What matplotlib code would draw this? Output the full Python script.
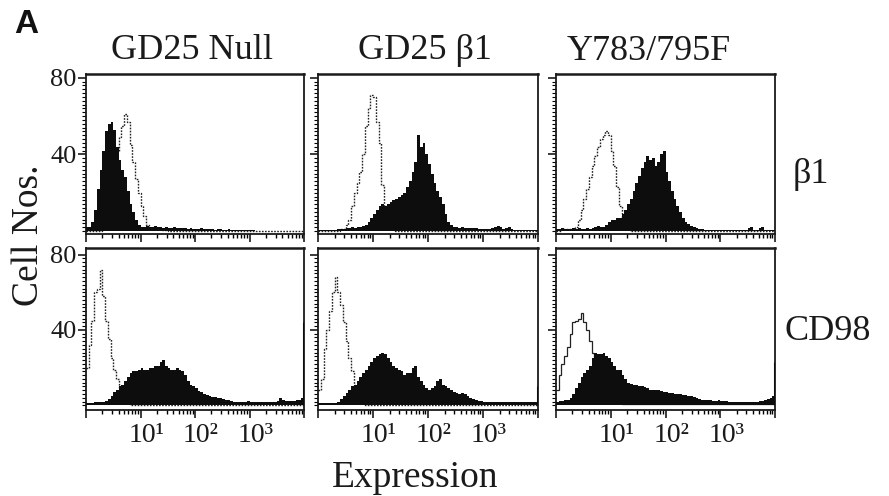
import numpy as np
import matplotlib
matplotlib.use("Agg")
import matplotlib.pyplot as plt
import matplotlib.transforms as mtransforms
from matplotlib.ticker import FixedLocator, FixedFormatter, NullFormatter

plt.rcParams['font.family'] = ['Liberation Serif', 'DejaVu Serif']

# ---------------- data ----------------
# histogram channels: 80 bins spanning 10^0 .. 10^4 (log10 bin edges)
log_edges = np.linspace(0, 4, 81)

columns = ["GD25 Null", "GD25 \u03b21", "Y783/795F"]
rows = ["\u03b21", "CD98"]
xtick_labels = ["", "10\u00b9", "10\u00b2", "10\u00b3", ""]
ytick_values = [40, 80]

# row 1 (beta1 staining)
null_b1_fill = [2, 2, 5, 11, 22, 32, 42, 52, 56, 57, 53, 44, 37, 32, 28, 21, 14, 10, 6, 3,
                2, 2, 2.5, 2, 2, 2.5, 2, 2, 1.5, 2, 1.5, 1.5, 2, 1.5, 1.5, 1.5, 1.5, 1, 1.5, 1,
                1, 1, 1.5, 1, 1, 1, 1, 0.5, 1, 1, 0.5, 0.5, 1, 0.5, 0.5, 0.5, 0.5, 0.5, 0.5, 0.5,
                0.5, 0.5, 0.3, 0.3, 0.3, 0.3, 0.3, 0.3, 0.3, 0.3, 0.3, 0.3, 0.3, 0.3, 0.3, 0.3, 0.3, 0.3, 0.3, 0.3]
null_b1_ctrl = [0, 0, 0, 0, 0, 0, 3, 8, 15, 24, 34, 42, 49, 55, 61, 57, 45, 36, 27, 20,
                13, 8, 3, 1.5, 1, 1, 1, 1, 0.5, 0.5, 0, 0, 0, 0, 0, 0, 0, 0, 0, 0,
                0, 0, 0, 0, 0, 0, 0, 0, 0, 0, 0, 0, 0, 0, 0, 0, 0, 0, 0, 0,
                0, 0, 0, 0, 0, 0, 0, 0, 0, 0, 0, 0, 0, 0, 0, 0, 0, 0, 0, 0]

b1_b1_fill = [0.5, 0.5, 0.5, 0.5, 0.5, 0.5, 0.5, 1, 1, 1, 1.5, 1.5, 2, 1.5, 2, 2, 2.5, 3, 5, 7,
              9, 11, 13, 14, 13, 14, 15, 16, 17, 18, 19, 20, 23, 26, 31, 36, 50, 44, 46, 40,
              35, 30, 25, 21, 18, 14, 9, 5, 3, 2, 2, 1.5, 2, 1.5, 1.5, 1.5, 1.5, 1.5, 1, 1,
              1, 1, 1, 1.5, 2, 2.5, 2, 1, 1.5, 2, 1, 0.5, 0.5, 0.5, 0.5, 0.5, 0.5, 0.5, 0.5, 0.5]
b1_b1_ctrl = [0, 0, 0, 0, 0, 0, 0, 0, 1, 1, 3, 6, 13, 20, 25, 31, 40, 55, 64, 71,
              70, 57, 46, 24, 13, 7, 3, 1, 0, 0, 0, 0, 0, 0, 0, 0, 0, 0, 0, 0,
              0, 0, 0, 0, 0, 0, 0, 0, 0, 0, 0, 0, 0, 0, 0, 0, 0, 0, 0, 0,
              0, 0, 0, 0, 0, 0, 0, 0, 0, 0, 0, 0, 0, 0, 0, 0, 0, 0, 0, 0]

mut_b1_fill = [1, 1, 1.5, 1, 1, 1, 1.5, 1, 1.5, 1, 1, 1.5, 1, 1.5, 2, 2.5, 2, 2, 3, 5,
               6, 6, 7, 7, 9, 11, 14, 17, 21, 25, 29, 33, 36, 39, 37, 38, 34, 36, 40, 42,
               31, 26, 21, 17, 13, 10, 7, 5, 3.5, 2.5, 2, 1.5, 1, 1, 0.5, 0.5, 0.5, 0.5, 0.5, 0.5,
               0.5, 0.5, 0.5, 0.5, 0.5, 0.5, 0.5, 0.5, 0.5, 0.5, 1.5, 2, 0.5, 0.5, 1.5, 2, 0.5, 0.5, 0.5, 0.5]
mut_b1_ctrl = [0, 0, 1, 1, 1, 1, 1, 2, 6, 11, 17, 22, 28, 34, 39, 44, 48, 50, 52, 50,
               42, 34, 23, 13, 7, 3, 1, 0, 0, 0, 0, 0, 0, 0, 0, 0, 0, 0, 0, 0,
               0, 0, 0, 0, 0, 0, 0, 0, 0, 0, 0, 0, 0, 0, 0, 0, 0, 0, 0, 0,
               0, 0, 0, 0, 0, 0, 0, 0, 0, 0, 0, 0, 0, 0, 0, 0, 0, 0, 0, 0]

# row 2 (CD98 staining)
null_cd98_fill = [1, 1, 1, 1.5, 2, 2, 2, 2.5, 3.5, 5, 7, 8, 10, 11, 13, 15, 17, 18, 18, 19,
                  20, 19, 19, 20, 20, 21, 21, 23, 24, 21, 20, 19, 19, 20, 19, 18, 16, 13, 11, 10,
                  9, 7.5, 7, 6, 5.5, 5, 4.5, 4.5, 4, 4, 3.5, 3, 3, 2.5, 2, 1.5, 1.5, 2, 2, 2.5,
                  2, 2, 2, 1.5, 2, 1.5, 1.5, 2, 2, 2, 2.5, 4, 3, 2.5, 2.5, 2.5, 2.5, 3, 3, 4]
null_cd98_ctrl = [20, 32, 45, 60, 62, 72, 58, 45, 35, 25, 19, 14, 9, 6, 3, 1.5, 0, 0, 0, 0,
                  0, 0, 0, 0, 0, 0, 0, 0, 0, 0, 0, 0, 0, 0, 0, 0, 0, 0, 0, 0,
                  0, 0, 0, 0, 0, 0, 0, 0, 0, 0, 0, 0, 0, 0, 0, 0, 0, 0, 0, 0,
                  0, 0, 0, 0, 0, 0, 0, 0, 0, 0, 0, 0, 0, 0, 0, 0, 0, 0, 0, 0]

b1_cd98_fill = [1, 1, 1, 1, 1, 1, 1, 1.5, 3.5, 5, 6.5, 8, 10, 11, 13, 15, 17, 19, 21, 23,
                25, 26, 27, 28, 27, 25, 23, 21, 20, 19, 18, 16, 17, 17, 20, 21, 15, 13, 11, 9,
                8, 9, 10, 13, 14, 11, 10, 9, 8, 7, 6.5, 6, 6.5, 6, 5, 4, 3.5, 3, 2.5, 2.5,
                2, 2, 2, 1.5, 1.5, 1.5, 1.5, 2, 2, 1.5, 1.5, 2, 1.5, 2, 1.5, 1.5, 2, 1.5, 1.5, 2]
b1_cd98_ctrl = [8, 14, 30, 40, 50, 60, 68, 60, 53, 44, 34, 25, 18, 11, 5, 2, 1, 0, 0, 0,
                0, 0, 0, 0, 0, 0, 0, 0, 0, 0, 0, 0, 0, 0, 0, 0, 0, 0, 0, 0,
                0, 0, 0, 0, 0, 0, 0, 0, 0, 0, 0, 0, 0, 0, 0, 0, 0, 0, 0, 0,
                0, 0, 0, 0, 0, 0, 0, 0, 0, 0, 0, 0, 0, 0, 0, 0, 0, 0, 0, 0]

mut_cd98_fill = [2, 2.5, 2.5, 3, 3, 4, 6, 9, 12, 15, 17, 19, 21, 25, 28, 27, 27, 28, 26, 25,
                 23, 21, 19, 19, 16, 14, 12, 11.5, 11, 11, 10.5, 10, 9.5, 9, 8, 8, 8, 8, 7.5, 7,
                 7, 6.5, 6.5, 6, 6, 6, 5.5, 5.5, 5, 5, 4.5, 4, 3.5, 3, 3, 3, 3, 2.5, 2.5, 3,
                 2.5, 2.5, 2.5, 2, 2, 2, 2, 2, 2, 2, 2, 2, 2, 2, 2.5, 2.5, 3, 3.5, 4, 5]
mut_cd98_ctrl = [8, 16, 22, 26, 31, 38, 44, 45, 46, 49, 44, 40, 34, 28, 23, 18, 14, 10, 7, 5,
                 3, 2, 1, 1, 0.5, 0.5, 0.5, 0.5, 0.5, 0.5, 0.5, 0.5, 0.5, 0.5, 0.5, 0.5, 0.5, 0.5, 0.5, 0.5,
                 0.5, 0.5, 0.5, 0.5, 0.5, 0.5, 0.5, 0.5, 0.5, 0.5, 0.5, 0.5, 0.5, 0.5, 0.5, 0.5, 0.5, 0.5, 0.5, 0.5,
                 0.5, 0.5, 0.5, 0.5, 0.5, 0.5, 0.5, 0.5, 0.5, 0.5, 0.5, 0.5, 0.5, 0.5, 0.5, 0.5, 0.5, 0.5, 0.5, 0.5]

# counts piled in the last (overflow) channel, per panel (row-major)
edge_overflow = [0, 0, 0, 44, 10, 23]

fills = [[null_b1_fill, b1_b1_fill, mut_b1_fill],
         [null_cd98_fill, b1_cd98_fill, mut_cd98_fill]]
ctrls = [[null_b1_ctrl, b1_b1_ctrl, mut_b1_ctrl],
         [null_cd98_ctrl, b1_cd98_ctrl, mut_cd98_ctrl]]

# ---------------- layout ----------------
W, H = 889, 496
fig = plt.figure(figsize=(W / 100, H / 100), dpi=100)

col_px = [(86, 304), (318, 538), (556, 775)]
row_px = [(74, 234), (248, 410)]
row_ylim = [(-1.5, 82.0), (-2.5, 83.5)]

def fx(x):
    return x / W

def fy(y):
    return 1 - y / H

edges = 10 ** log_edges
major_x = [1, 10, 100, 1000, 10000]
minor_x = [m * 10 ** d for d in range(4) for m in range(2, 10)]
label_shift = mtransforms.ScaledTranslation(6 / 100, 0, fig.dpi_scale_trans)

for r in range(2):
    for c in range(3):
        x0, x1 = col_px[c]
        y0, y1 = row_px[r]
        ax = fig.add_axes([fx(x0), fy(y1), (x1 - x0) / W, (y1 - y0) / H])
        ax.set_xscale('log')
        ctrl_style = '-' if (r == 1 and c == 2) else (0, (1.2, 1.0))
        ctrl_lw = 0.9 if (r == 1 and c == 2) else 1.0
        ax.stairs(ctrls[r][c], edges, fill=False, color='#222222',
                  linestyle=ctrl_style, lw=ctrl_lw, baseline=None, zorder=2)
        ax.stairs(fills[r][c], edges, fill=True, color='#0d0d0d', lw=0, zorder=3)
        ov = edge_overflow[r * 3 + c]
        if ov > 0:
            ax.vlines(edges[-1], 0, ov, color='#0d0d0d', lw=2.2, zorder=4)
        ax.set_xlim(1, 1e4)
        ax.set_ylim(*row_ylim[r])

        for s in ax.spines.values():
            s.set_linewidth(1.3)
            s.set_color('#1a1a1a')
        ax.spines['top'].set_linewidth(1.8)

        ax.xaxis.set_major_locator(FixedLocator(major_x))
        ax.xaxis.set_minor_locator(FixedLocator(minor_x))
        ax.xaxis.set_minor_formatter(NullFormatter())
        if r == 1:
            ax.xaxis.set_major_formatter(FixedFormatter(xtick_labels))
        else:
            ax.xaxis.set_major_formatter(NullFormatter())
        ax.yaxis.set_major_locator(FixedLocator(ytick_values))
        ax.yaxis.set_minor_locator(FixedLocator(list(range(0, 82, 2))))
        ax.yaxis.set_minor_formatter(NullFormatter())
        if c == 0:
            ax.yaxis.set_major_formatter(FixedFormatter([str(v) for v in ytick_values]))
        else:
            ax.yaxis.set_major_formatter(NullFormatter())

        ax.tick_params(axis='x', which='major', direction='out', length=6, width=1.2,
                       pad=3, labelsize=20, colors='#1a1a1a')
        ax.tick_params(axis='x', which='minor', direction='out', length=3, width=1.0)
        ax.tick_params(axis='y', which='major', direction='out', length=6, width=1.2,
                       pad=1, labelsize=19, colors='#1a1a1a')
        ax.tick_params(axis='y', which='minor', direction='out', length=3, width=0.8)
        if r == 1:
            for lab in ax.get_xticklabels():
                lab.set_transform(lab.get_transform() + label_shift)

# ---------------- text ----------------
title_fs = 26
fig.text(fx(192), fy(59), columns[0], ha='center', va='baseline', fontsize=title_fs, color='#1a1a1a')
fig.text(fx(425), fy(59), columns[1], ha='center', va='baseline', fontsize=title_fs, color='#1a1a1a')
fig.text(fx(649), fy(60), columns[2], ha='center', va='baseline', fontsize=title_fs, color='#1a1a1a')

fig.text(fx(793), fy(183), rows[0], ha='left', va='baseline', fontsize=title_fs, color='#1a1a1a')
fig.text(fx(785), fy(340), rows[1], ha='left', va='baseline', fontsize=title_fs, color='#1a1a1a')

fig.text(fx(29), fy(235), "Cell Nos.", ha='center', va='center', rotation=90,
         fontsize=27, color='#1a1a1a')
fig.text(fx(415), fy(487), "Expression", ha='center', va='baseline', fontsize=27, color='#1a1a1a')

fig.text(fx(14), fy(33), "A", ha='left', va='baseline', fontsize=24, fontweight='bold',
         family=['Liberation Sans', 'DejaVu Sans'], color='#111111')

fig.savefig("out.png", dpi=100)
